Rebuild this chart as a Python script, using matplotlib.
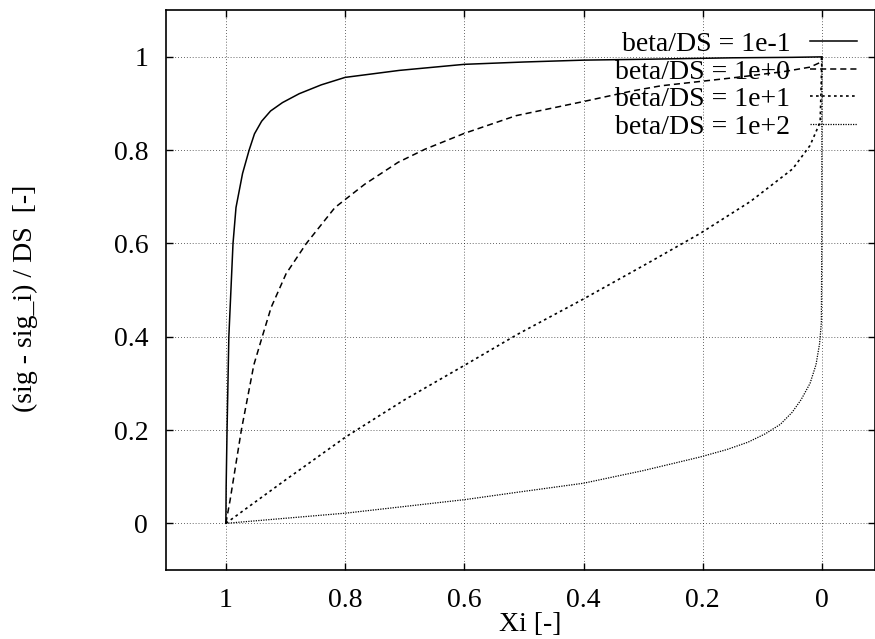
import matplotlib
matplotlib.use('Agg')
import matplotlib.pyplot as plt

# ── Data (Xi runs from 1 down to 0) ───────────────────────────────────────────
xi_a = [1.0, 0.9995, 0.998, 0.995, 0.988, 0.983, 0.972, 0.961, 0.952, 0.94,
        0.925, 0.905, 0.877, 0.84, 0.80, 0.709, 0.60, 0.50, 0.40, 0.29,
        0.15, 0.05, 0.0]
y_a = [0.0, 0.08, 0.2, 0.4, 0.6, 0.677, 0.75, 0.8, 0.835, 0.862,
       0.884, 0.902, 0.921, 0.94, 0.956, 0.971, 0.984, 0.989, 0.993, 0.995,
       0.998, 0.999, 1.0]

xi_b = [1.0, 0.993, 0.974, 0.953, 0.939, 0.924, 0.899, 0.865, 0.817, 0.767,
        0.711, 0.666, 0.60, 0.513, 0.401, 0.318, 0.27, 0.15, 0.066, 0.02,
        0.003, 0.0]
y_b = [0.0, 0.049, 0.2, 0.34, 0.4, 0.463, 0.535, 0.6, 0.677, 0.727,
       0.774, 0.802, 0.836, 0.874, 0.904, 0.927, 0.938, 0.955, 0.968, 0.978,
       0.988, 1.0]

xi_c = [1.0, 0.9, 0.798, 0.70, 0.598, 0.511, 0.40, 0.289, 0.205, 0.12,
        0.049, 0.02, 0.003, 0.0]
y_c = [0.0, 0.093, 0.186, 0.265, 0.340, 0.405, 0.481, 0.56, 0.621, 0.69,
       0.76, 0.81, 0.86, 1.0]

xi_d = [1.0, 0.798, 0.598, 0.509, 0.40, 0.30, 0.205, 0.16, 0.124, 0.095,
        0.07, 0.05, 0.035, 0.02, 0.01, 0.004, 0.001, 0.0003, 0.0]
y_d = [0.0, 0.022, 0.051, 0.067, 0.086, 0.113, 0.142, 0.158, 0.174, 0.192,
       0.212, 0.238, 0.265, 0.30, 0.34, 0.385, 0.43, 0.6, 1.0]

labels = ['beta/DS = 1e-1', 'beta/DS = 1e+0', 'beta/DS = 1e+1', 'beta/DS = 1e+2']
x_ticks = [1, 0.8, 0.6, 0.4, 0.2, 0]
x_ticklabels = ['1', '0.8', '0.6', '0.4', '0.2', '0']
y_ticks = [0, 0.2, 0.4, 0.6, 0.8, 1]
y_ticklabels = ['0', '0.2', '0.4', '0.6', '0.8', '1']

# ── Plot ──────────────────────────────────────────────────────────────────────
plt.rcParams['font.family'] = ['Liberation Serif', 'DejaVu Serif']
plt.rcParams['font.size'] = 20

fig = plt.figure(figsize=(8.75, 6.39), dpi=100)
ax = fig.add_axes([0.19, 0.108, 0.81, 0.876])

ax.plot(xi_a, y_a, color='black', lw=1.1, ls='-', label=labels[0])
ax.plot(xi_b, y_b, color='black', lw=1.1, dashes=(4.0, 2.6), label=labels[1])
ax.plot(xi_c, y_c, color='black', lw=1.2, dashes=(1.6, 2.0), label=labels[2])
ax.plot(xi_d, y_d, color='black', lw=0.9, dashes=(1.0, 1.0), label=labels[3])

ax.set_xlim(1.1, -0.089)
ax.set_ylim(-0.1, 1.1)
ax.set_xticks(x_ticks)
ax.set_xticklabels(x_ticklabels)
ax.set_yticks(y_ticks)
ax.set_yticklabels(y_ticklabels)

ax.grid(True, color='black', lw=0.6, dashes=(1, 2.5), alpha=0.8)
ax.tick_params(direction='in', length=5, width=1, top=True, right=True,
               pad=13)
for s in ax.spines.values():
    s.set_linewidth(1.2)

ax.set_xlabel('Xi [-]')
ax.set_ylabel('(sig - sig_i) / DS  [-]')
ax.xaxis.set_label_coords(0.513, -0.075)
ax.yaxis.set_label_coords(-0.181, 0.486)

leg = ax.legend(loc='upper right', bbox_to_anchor=(0.99, 0.982),
                frameon=False, markerfirst=False, handlelength=1.7,
                handletextpad=0.7, labelspacing=0.08, borderaxespad=0)

fig.savefig('out.png', dpi=100)
